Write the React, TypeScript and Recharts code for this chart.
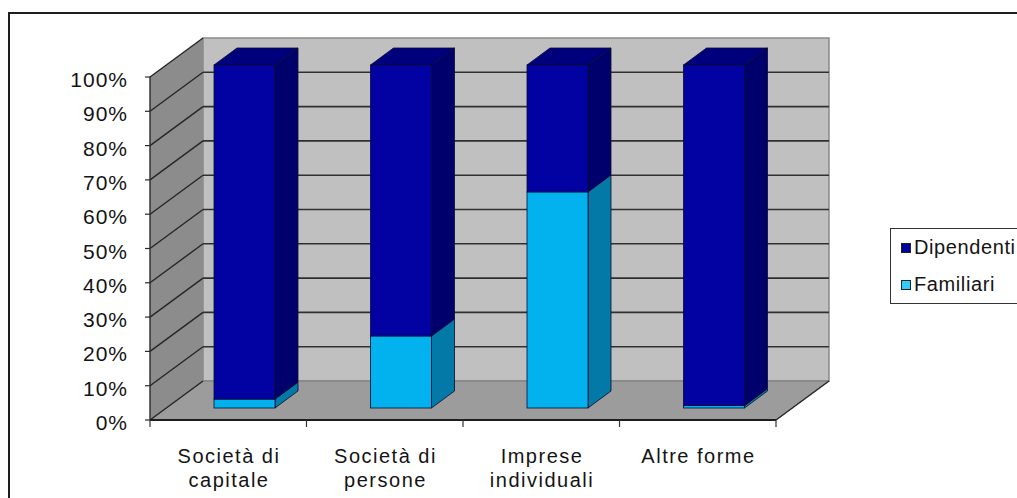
import React from 'react';
import { BarChart, Bar, XAxis, YAxis, ReferenceArea, ReferenceLine, Legend } from 'recharts';

// Categories and shares (percent of employees per legal form)
const categories = ['Società di capitale', 'Società di persone', 'Imprese individuali', 'Altre forme'];
// Category labels as they are broken over lines under the axis
const categoryLines = [['Società di', 'capitale'], ['Società di', 'persone'], ['Imprese', 'individuali'], ['Altre forme']];
const familiari = [2.6, 21, 63, 0.7];
const dipendenti = [97.4, 79, 37, 99.3];
const yTicks = [0, 10, 20, 30, 40, 50, 60, 70, 80, 90, 100];

const data = categories.map((name, i) => ({
  name,
  Familiari: familiari[i],
  Dipendenti: dipendenti[i],
}));

// 3D look: depth of the walls and placement of the bar prisms inside that depth
const WALL_DX = 53;
const WALL_DY = 39;
const BAR_FRONT_DX = 16;
const BAR_FRONT_DY = 12;
const BAR_DEPTH_DX = 23;
const BAR_DEPTH_DY = 17;

const FONT = '"Liberation Sans", Arial, Helvetica, sans-serif';

const COLORS = {
  dipFront: '#0202a2',
  dipSide: '#00006c',
  dipTop: '#00007c',
  famFront: '#02b2ee',
  famSide: '#0279a6',
  edge: '#0a0a30',
};

// Left wall, back wall and floor, built from the plot rectangle of the 0–100 range
const Walls = (p: any) => {
  const { x, y, width, height } = p;
  const bx = x + WALL_DX;
  const by = y - WALL_DY;
  const bottom = y + height;
  const backBottom = by + height;
  return (
    <g>
      <polygon
        points={`${x},${y} ${bx},${by} ${bx},${backBottom} ${x},${bottom}`}
        fill="#8c8c8c"
      />
      <rect x={bx} y={by} width={width} height={height} fill="#c0c0c0" stroke="#8a8a8a" strokeWidth={1.5} />
      <polygon
        points={`${x},${bottom} ${bx},${backBottom} ${bx + width},${backBottom} ${x + width},${bottom}`}
        fill="#9c9c9c"
        stroke="#7a7a7a"
        strokeWidth={1}
      />
      <line x1={x + width} y1={bottom} x2={bx + width} y2={backBottom} stroke="#2a2a2a" strokeWidth={1.5} />
    </g>
  );
};

// Gridline running across the left wall and along the back wall
const makeGridLine = (edge: boolean) => (p: any) => {
  const { x1, y1, x2 } = p;
  const bx1 = x1 + WALL_DX;
  const bx2 = x2 + WALL_DX;
  const by = y1 - WALL_DY;
  return (
    <g>
      <line x1={x1} y1={y1} x2={bx1} y2={by} stroke="#262626" strokeWidth={1.4} />
      {!edge && <line x1={bx1} y1={by} x2={bx2} y2={by} stroke="#303030" strokeWidth={1.6} />}
    </g>
  );
};

// Prism for one stacked segment
const makeBarShape = (front: string, side: string, top: string | null) => (p: any) => {
  const { x, y, width, height } = p;
  if (height == null || height <= 0) return <g />;
  const fx = x + BAR_FRONT_DX;
  const fy = y - BAR_FRONT_DY;
  const w = width;
  const h = height;
  const dx = BAR_DEPTH_DX;
  const dy = BAR_DEPTH_DY;
  return (
    <g>
      <polygon
        points={`${fx + w},${fy} ${fx + w + dx},${fy - dy} ${fx + w + dx},${fy + h - dy} ${fx + w},${fy + h}`}
        fill={side}
        stroke={COLORS.edge}
        strokeWidth={0.8}
      />
      {top && (
        <polygon
          points={`${fx},${fy} ${fx + dx},${fy - dy} ${fx + w + dx},${fy - dy} ${fx + w},${fy}`}
          fill={top}
          stroke={COLORS.edge}
          strokeWidth={0.8}
        />
      )}
      <rect x={fx} y={fy} width={w} height={h} fill={front} stroke={COLORS.edge} strokeWidth={0.8} />
    </g>
  );
};

const famShape = makeBarShape(COLORS.famFront, COLORS.famSide, null);
const dipShape = makeBarShape(COLORS.dipFront, COLORS.dipSide, COLORS.dipTop);

const YTick = (p: any) => {
  const { x, y, payload } = p;
  return (
    <text
      x={x}
      y={y}
      dy={10}
      textAnchor="end"
      fill="#141414"
      style={{ fontFamily: FONT, fontSize: 21, letterSpacing: 1 }}
    >
      {`${payload.value}%`}
    </text>
  );
};

const XTick = (p: any) => {
  const { x, y, payload, index, width, visibleTicksCount } = p;
  const count = visibleTicksCount || categories.length;
  const band = width && count ? width / count : 156.5;
  const idx = categories.indexOf(payload.value);
  const lines = idx >= 0 ? categoryLines[idx] : [String(payload.value)];
  return (
    <g>
      {index === 0 && (
        <line x1={x - band / 2} y1={y} x2={x - band / 2} y2={y + 7} stroke="#333" strokeWidth={1.2} />
      )}
      <line x1={x + band / 2} y1={y} x2={x + band / 2} y2={y + 7} stroke="#333" strokeWidth={1.2} />
      <text
        x={x}
        y={y + 43}
        textAnchor="middle"
        fill="#141414"
        style={{ fontFamily: FONT, fontSize: 20, letterSpacing: 1.5 }}
      >
        {lines.map((line, i) => (
          <tspan key={i} x={x + 0.75} dy={i === 0 ? 0 : 24}>
            {line}
          </tspan>
        ))}
      </text>
    </g>
  );
};

const LegendBox = (props: any) => {
  const items = props.payload || [];
  return (
    <div
      style={{
        border: '1px solid #333',
        background: '#fff',
        width: 150,
        height: 76,
        boxSizing: 'border-box',
        fontFamily: FONT,
        fontSize: 20,
        letterSpacing: 0.6,
        color: '#141414',
      }}
    >
      {items.map((it: any) => (
        <div key={it.value} style={{ height: 37, display: 'flex', alignItems: 'center', whiteSpace: 'nowrap' }}>
          <span
            style={{
              display: 'inline-block',
              width: 8,
              height: 8,
              marginLeft: 10,
              marginRight: 3,
              background: it.color,
              border: '1px solid #222',
            }}
          />
          <span>{it.value}</span>
        </div>
      ))}
    </div>
  );
};

export default function App() {
  return (
    <div
      style={{
        position: 'absolute',
        left: 0,
        top: 0,
        width: 1017,
        height: 498,
        overflow: 'hidden',
        background: '#fff',
      }}
    >
      <div
        style={{
          position: 'absolute',
          left: 8,
          top: 12,
          width: 1100,
          height: 600,
          border: '2px solid #1e1e1e',
        }}
      />
      <div style={{ position: 'absolute', left: 0, top: 0 }}>
        <BarChart
          width={1017}
          height={498}
          data={data}
          margin={{ top: 77, right: 241, bottom: 8, left: 0 }}
          barSize={61}
        >
          <ReferenceArea y1={0} y2={100} shape={Walls} zIndex={-300} ifOverflow="visible" />
          {yTicks.map((v) => (
            <ReferenceLine
              key={v}
              y={v}
              shape={makeGridLine(v === 0 || v === 100)}
              zIndex={-250}
              ifOverflow="visible"
            />
          ))}
          <XAxis
            dataKey="name"
            height={70}
            tickSize={0}
            tickMargin={0}
            tickLine={false}
            axisLine={{ stroke: '#1e1e1e', strokeWidth: 2 }}
            tick={XTick}
            interval={0}
          />
          <YAxis
            width={150}
            domain={[0, 100]}
            ticks={yTicks}
            tickSize={5}
            tickMargin={17}
            interval={0}
            axisLine={{ stroke: '#2a2a2a', strokeWidth: 1.4 }}
            tickLine={{ stroke: '#2a2a2a', strokeWidth: 1.2 }}
            tick={YTick}
          />
          <Legend
            layout="vertical"
            align="center"
            verticalAlign="middle"
            content={LegendBox}
            wrapperStyle={{ left: 890, top: 228, width: 150 }}
          />
          <Bar dataKey="Familiari" stackId="a" fill="#33ccff" shape={famShape} isAnimationActive={false} />
          <Bar dataKey="Dipendenti" stackId="a" fill="#000099" shape={dipShape} isAnimationActive={false} />
        </BarChart>
      </div>
    </div>
  );
}
